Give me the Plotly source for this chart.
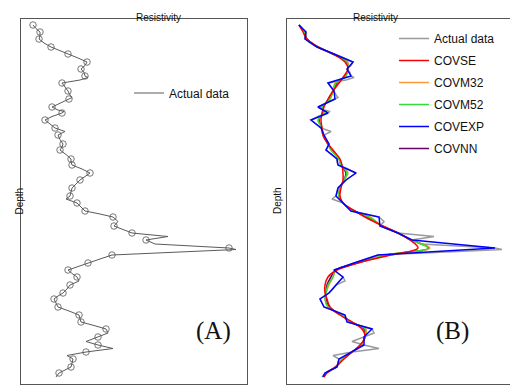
import plotly.graph_objects as go

# ---- data (arbitrary resistivity units vs depth units) ----
# dense "actual" log
depth_log = [25, 28.5, 32, 35.5, 39, 43, 47, 50.5, 54, 58, 62, 65.5, 69, 72.5, 76, 77.5, 80, 83, 87, 91,
             95, 97.5, 99, 103, 107, 110, 111.5, 113, 116.5, 120, 124, 128, 131.5, 135, 139.5, 144, 147,
             150, 154.5, 159, 162, 165, 169, 173, 176.5, 180, 184, 188, 192, 196, 199, 203, 207, 211,
             214, 217, 221.5, 226, 229.5, 233, 236.5, 240, 244, 248, 249.5, 255, 259, 263, 266.5, 270,
             273.5, 277, 281, 285, 289, 293, 296, 299, 303, 307, 311, 315, 318.5, 322, 325.5, 329, 333,
             337, 341.5, 345, 348.5, 352, 355.5, 359, 363, 367, 370, 373, 377]
res_log = [33, 36, 40, 40, 39, 44, 51, 60, 68, 78, 87, 85, 81, 84, 85, 88, 80, 62, 65, 68,
           70, 72, 69, 60, 52, 58, 64, 62, 52, 45, 50, 55, 65, 58, 60, 63, 62,
           60, 66, 71, 71, 72, 82, 90, 85, 80, 76, 72, 71, 70, 66, 77, 81, 85,
           100, 113, 118, 114, 123, 132, 168, 146, 155, 229, 236, 112, 100, 88, 78, 68,
           72, 77, 79, 70, 67, 63, 58, 54, 56, 58, 69, 79, 80, 81, 94, 106, 108,
           98, 86, 98, 113, 86, 67, 73, 72, 71, 65, 59, 56]

# sampled observations (circles)
depth_obs = [25, 32, 39, 47, 54, 62, 69, 76, 83, 91, 99, 107, 113, 120, 128, 135, 144, 150, 159, 165,
             173, 180, 188, 196, 203, 211, 217, 226, 233, 240, 248, 255, 263, 270, 277, 285, 293, 299,
             307, 315, 322, 329, 337, 345, 352, 359, 367, 373]
res_obs = [33, 40, 39, 51, 68, 87, 81, 85, 62, 68, 69, 52, 62, 45, 55, 58, 63, 60, 71, 72,
           90, 80, 72, 70, 77, 85, 113, 114, 132, 146, 229, 112, 88, 68, 77, 70, 63, 54,
           58, 79, 81, 106, 98, 98, 86, 73, 71, 59]

# model predictions
depth_pred = depth_obs + [377]
covse = [33, 37, 41, 52, 67, 79, 82, 78, 73, 67, 62, 58, 56, 55, 56, 57, 62, 67, 74, 76,
         77, 77, 75, 74, 77, 89, 99, 117, 132, 144, 152, 125, 92, 71, 62, 59, 59, 61,
         64, 74, 86, 96, 99, 94, 86, 78, 69, 61, 58]
covm32 = [33, 38, 40, 52, 67, 82, 82, 80, 69, 67, 64, 56, 58, 52, 56, 57, 62, 65, 73, 75,
          82, 78, 74, 73, 77, 88, 104, 116, 132, 145, 164, 120, 91, 70, 67, 63, 60, 59,
          62, 76, 84, 100, 99, 95, 86, 76, 70, 60, 58]
covm52 = [33, 38, 40, 52, 67, 81, 82, 80, 70, 67, 64, 56, 58, 52, 56, 57, 62, 65, 73, 75,
          81, 78, 74, 73, 77, 88, 103, 116, 132, 145, 162, 121, 91, 70, 67, 62, 60, 59,
          62, 76, 85, 99, 99, 95, 86, 77, 70, 60, 58]
covexp = [33, 40, 39, 51, 68, 87, 81, 85, 62, 68, 69, 52, 62, 45, 55, 58, 63, 60, 71, 72,
          90, 80, 72, 70, 77, 85, 113, 114, 132, 146, 229, 112, 88, 68, 77, 70, 63, 54,
          58, 79, 81, 106, 98, 98, 86, 73, 71, 59, 57]
covnn = [33, 38, 41, 52, 67, 81, 82, 79, 71, 67, 63, 57, 57, 53, 56, 57, 62, 66, 73, 75,
         80, 78, 74, 73, 77, 88, 102, 116, 132, 145, 163, 122, 91, 70, 65, 61, 60, 60,
         63, 75, 85, 98, 99, 95, 86, 77, 70, 60, 58]

W, H = 510, 388
def px(x):
    return x / W
def py(y):
    return 1 - y / H

fig = go.Figure()

# ---- panel A ----
fig.add_trace(go.Scatter(x=res_log, y=depth_log, mode="lines", name="Actual data",
                         line=dict(color="#5a5a5a", width=1), xaxis="x", yaxis="y",
                         legend="legend"))
fig.add_trace(go.Scatter(x=res_obs, y=depth_obs, mode="markers", showlegend=False,
                         marker=dict(symbol="circle-open", size=6.5, color="#555555",
                                     line=dict(width=0.8)),
                         xaxis="x", yaxis="y"))

# ---- panel B ----
fig.add_trace(go.Scatter(x=res_log, y=depth_log, mode="lines", name="Actual data",
                         line=dict(color="#9a9a9a", width=1.5), xaxis="x2", yaxis="y2",
                         legend="legend2", legendgroup="g0", legendrank=1))
# (name, values, colour, shape, legend rank); drawn in this order
models = [("COVNN", covnn, "#660066", "spline", 6),
          ("COVM32", covm32, "#ff9933", "spline", 3),
          ("COVM52", covm52, "#33dd33", "spline", 4),
          ("COVSE", covse, "#ff0000", "spline", 2),
          ("COVEXP", covexp, "#0000ff", "linear", 5)]
for name, vals, col, shape, rank in models:
    fig.add_trace(go.Scatter(x=vals, y=depth_pred, mode="lines", name=name,
                             line=dict(color=col, width=1.5, shape=shape),
                             xaxis="x2", yaxis="y2", legend="legend2",
                             legendgroup="g%d" % rank, legendrank=rank))

axcommon = dict(showgrid=False, zeroline=False, showticklabels=False, ticks="",
                showline=True, linecolor="#555555", linewidth=1)
fig.update_layout(
    width=W, height=H,
    margin=dict(l=0, r=0, t=0, b=0),
    paper_bgcolor="white", plot_bgcolor="white",
    font=dict(family="Liberation Sans, Arial, sans-serif", color="#111111"),
    xaxis=dict(domain=[px(21), px(247)], range=[21, 247], mirror=True, anchor="y", **axcommon),
    yaxis=dict(domain=[py(384), py(19)], range=[384, 19], mirror=True, anchor="x", **axcommon),
    xaxis2=dict(domain=[px(287), 1], range=[21, 244], mirror=True, anchor="y2", **axcommon),
    yaxis2=dict(domain=[py(384), py(19)], range=[384, 19], mirror=False, anchor="x2", **axcommon),
    legend=dict(x=px(129), y=py(93), xanchor="left", yanchor="middle",
                bgcolor="rgba(0,0,0,0)", font=dict(size=12), itemwidth=30),
    legend2=dict(x=px(394), y=py(24), xanchor="left", yanchor="top",
                 bgcolor="rgba(0,0,0,0)", font=dict(size=12), itemwidth=30,
                 tracegroupgap=3),
)

ann = [
    dict(text="Resistivity", x=px(134), y=py(9.5), xref="paper", yref="paper",
         showarrow=False, font=dict(size=10)),
    dict(text="Resistivity", x=px(400), y=py(9.5), xref="paper", yref="paper",
         showarrow=False, font=dict(size=10)),
    dict(text="Depth", x=px(11), y=py(201), xref="paper", yref="paper", textangle=-90,
         showarrow=False, font=dict(size=10)),
    dict(text="Depth", x=px(277), y=py(201), xref="paper", yref="paper", textangle=-90,
         showarrow=False, font=dict(size=10)),
    dict(text="(A)", x=px(213), y=py(347), xref="paper", yref="paper", showarrow=False,
         font=dict(size=25, family="Liberation Serif, Times New Roman, serif")),
    dict(text="(B)", x=px(471), y=py(347), xref="paper", yref="paper", showarrow=False,
         font=dict(size=25, family="Liberation Serif, Times New Roman, serif")),
]
fig.update_layout(annotations=ann)

fig.write_html("out.html", config={"displayModeBar": False},
               post_script="document.body.style.margin='0';document.body.style.padding='0';")
